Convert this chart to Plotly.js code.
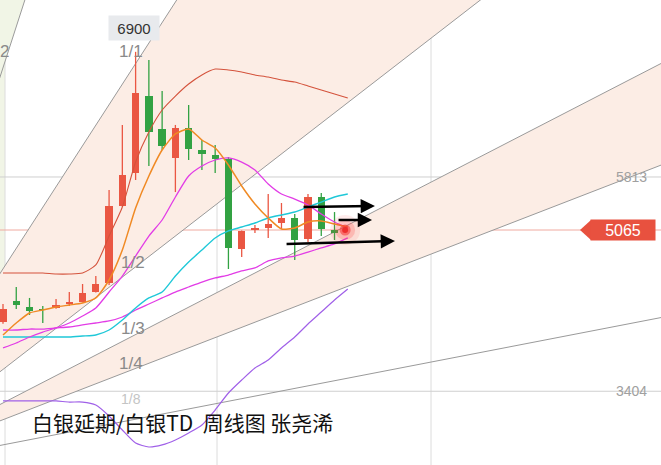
<!DOCTYPE html>
<html>
<head>
<meta charset="utf-8">
<script src="https://cdn.plot.ly/plotly-3.0.1.min.js"></script>
<style>
html,body{margin:0;padding:0;background:#fff;}
#chart{width:661px;height:465px;}
</style>
</head>
<body>
<div id="chart"></div>
<script>
// ---- data (weekly candles, index 0..25) ----
const weeks = [0,1,2,3,4,5,6,7,8,9,10,11,12,13,14,15,16,17,18,19,20,21,22,23,24,25];
const openP  = [4117,4334,4272,4251,4262,4303,4323,4426,4519,5312,5652,6445,6105,5807,6116,5889,5838,5796,4869,5065,5086,5137,5189,4972,5405,5065];
const closeP = [4251,4292,4231,4241,4292,4323,4416,4509,5312,5632,6476,6074,5930,6116,5899,5848,5796,4880,5055,5086,5127,5189,4962,5405,5075,5034];
const highP  = [4303,4478,4365,4282,4354,4426,4509,4591,5477,6147,6900,6816,6497,6147,6353,5992,5941,5817,5060,5117,5436,5343,5230,5436,5446,5250];
const lowP   = [4100,4251,4190,4107,4255,4282,4318,4420,4499,5305,5580,5724,5889,5456,5786,5683,5652,4663,4787,5034,4983,5075,4756,4941,5003,4962];

// moving-average style lines (index 0..26)
const maX = [0,1,2,3,4,5,6,7,8,9,10,11,12,13,14,15,16,17,18,19,20,21,22,23,24,25,26];
const maOrange  = [3984,4107,4210,4241,4272,4292,4313,4365,4550,4859,5292,5621,5889,6054,6105,5992,5910,5735,5518,5333,5189,5075,5086,5147,5158,5127,5096];
const maCyan    = [3963,3963,3963,3963,3963,3963,3973,3984,4035,4138,4262,4365,4426,4591,4735,4859,4983,5055,5096,5137,5189,5220,5250,5302,5353,5405,5436];
const maMagenta = [3850,3901,3963,4014,4056,4107,4179,4262,4426,4591,4797,5003,5168,5405,5621,5724,5786,5807,5765,5683,5539,5436,5384,5323,5230,5147,5086];
const maMagenta2= [4035,4035,4045,4045,4056,4066,4087,4107,4128,4169,4241,4303,4365,4426,4478,4529,4571,4601,4643,4674,4746,4777,4797,4838,4880,4921,4983];
const maDarkRed = [4622,4622,4622,4622,4612,4612,4622,4705,5003,5302,5765,6074,6301,6445,6569,6662,6723,6713,6692,6662,6641,6610,6589,6548,6507,6466,6425];
const maViolet  = [3304,3304,3304,3304,3304,3293,3293,3262,3149,3005,2871,2830,2851,2902,2974,3057,3211,3386,3520,3644,3726,3850,3963,4097,4220,4344,4457];

// Gann fan
const fanOriginX = -9.8, fanOriginY = 2593, fanUnit = 211.4;
const fanRatios = [2, 1, 1/2, 1/3, 1/4, 1/8];
const fanLabels = ['2','1/1','1/2','1/3','1/4','1/8'];

// price levels
const levelValues = [5611, 5065, 3404];
const levelLabels = ['5813', '5065', '3404'];
const highLabel = '6900';

// arrows (tail -> head)
const arrowTailX = [22.55, 25.19, 21.27];
const arrowTailY = [5302, 5168, 4921];
const arrowHeadX = [28.05, 27.83, 29.56];
const arrowHeadY = [5312, 5168, 4952];

const lastX = 25.8, lastPrice = 5065;
const titleText = '白银延期/白银TD  周线图 张尧浠';

// ---- build ----
const W = 661, H = 465;
const PX = x => x / W, PY = y => 1 - y / H;
const RED = '#ea5743', GREEN = '#32a243';
const xRange = [-0.226, 49.62], yRange = [2644.5, 7434];

const fanY = (r, x) => fanOriginY + r * fanUnit * (x - fanOriginX);
const farX = 60;

const shapes = [];
function band(r1, r2, color) {
  shapes.push({type:'path', layer:'below', xref:'x', yref:'y', line:{width:0}, fillcolor:color,
    path:`M ${fanOriginX},${fanOriginY} L ${farX},${fanY(r1,farX)} L ${farX},${fanY(r2,farX)} Z`});
}
shapes.push({type:'path', layer:'below', xref:'x', yref:'y', line:{width:0}, fillcolor:'#f1f5e6',
  path:`M ${fanOriginX},${fanOriginY} L 12,${fanY(fanRatios[0],12)} L ${fanOriginX},${fanY(fanRatios[0],12)} Z`});
shapes.push({type:'rect', layer:'below', xref:'paper', yref:'paper', x0:0, x1:PX(5), y0:PY(300), y1:1, line:{width:0}, fillcolor:'#f1f5e6'});
band(fanRatios[1], fanRatios[2], '#fcede5');
band(fanRatios[3], fanRatios[4], '#fcede5');

[5, 217, 431].forEach(v => shapes.push({type:'line', layer:'below', xref:'paper', yref:'paper', x0:PX(v), x1:PX(v), y0:0, y1:1, line:{color:'#dcdcdc', width:1}}));
shapes.push({type:'line', layer:'below', xref:'paper', yref:'y', x0:0, x1:1, y0:levelValues[0], y1:levelValues[0], line:{color:'#cfcfcf', width:1}});
shapes.push({type:'line', layer:'below', xref:'paper', yref:'y', x0:0, x1:1, y0:levelValues[2], y1:levelValues[2], line:{color:'#cfcfcf', width:1}});
shapes.push({type:'line', layer:'below', xref:'paper', yref:'y', x0:0, x1:1, y0:levelValues[1], y1:levelValues[1], line:{color:'#f0aaa0', width:1}});
fanRatios.forEach(r => shapes.push({type:'line', layer:'below', xref:'x', yref:'y',
  x0:fanOriginX, y0:fanOriginY, x1:farX, y1:fanY(r,farX), line:{color:'#9a9a9a', width:1}}));
shapes.push({type:'path', xref:'paper', yref:'paper', line:{width:0}, fillcolor:'#e8513f',
  path:`M ${PX(580)},${PY(230)} L ${PX(591)},${PY(220)} L ${PX(591)},${PY(240)} Z`});

const traces = [];
traces.push({type:'bar', x:weeks,
  base: weeks.map(i => Math.min(openP[i], closeP[i])),
  y: weeks.map(i => Math.max(Math.abs(closeP[i]-openP[i]), 14)),
  width:0.55, marker:{color: weeks.map(i => closeP[i] >= openP[i] ? RED : GREEN), line:{width:0}},
  hoverinfo:'skip'});
function wicks(up) {
  const xs=[], ys=[];
  weeks.forEach(i => { if ((closeP[i] >= openP[i]) === up) { xs.push(i,i,null); ys.push(lowP[i],highP[i],null); } });
  return {type:'scatter', mode:'lines', x:xs, y:ys, line:{color: up?RED:GREEN, width:1.3}, hoverinfo:'skip'};
}
traces.push(wicks(true), wicks(false));
const line = (y, c, w) => ({type:'scatter', mode:'lines', x:maX.slice(0, y.length), y:y, line:{color:c, width:w, shape:'spline', smoothing:0.6}, hoverinfo:'skip'});
traces.push(line(maDarkRed, '#d4533c', 1.1));
traces.push(line(maViolet, '#a060e8', 1.2));
traces.push(line(maMagenta2, '#e23ce6', 1.3));
traces.push(line(maCyan, '#1fc8d8', 1.4));
traces.push(line(maMagenta, '#e23ce6', 1.3));
traces.push(line(maOrange, '#f08a24', 1.5));
[[30,'rgba(255,70,70,0.10)'],[20,'rgba(255,60,60,0.22)'],[11,'rgba(245,50,50,0.55)'],[6,'rgba(235,40,40,0.9)']].forEach(([s,c]) =>
  traces.push({type:'scatter', mode:'markers', x:[lastX], y:[lastPrice], marker:{size:s, color:c, line:{width:0}}, hoverinfo:'skip'}));

const annotations = [];
const C = {xanchor:'center', yanchor:'middle', showarrow:false};
const labelPos = [[4,52],[131,52],[133,262],[133,328],[131,363],[131,399]];
fanLabels.forEach((t, k) => annotations.push(Object.assign({xref:'paper', yref:'paper', x:PX(labelPos[k][0]), y:PY(labelPos[k][1]),
  text:t, font:{family:'Liberation Sans, Arial', size: k===5 ? 14 : 17, color: k===5 ? '#c4c4c4' : '#8a8a8a'}}, C)));
annotations.push(Object.assign({xref:'paper', yref:'paper', x:PX(134), y:PY(28.5), text:highLabel,
  font:{family:'Liberation Sans, Arial', size:15, color:'#333'}, bgcolor:'#e8eaed', width:50, height:24, borderpad:0}, C));
annotations.push(Object.assign({xref:'paper', yref:'y', x:PX(631), y:levelValues[0], text:levelLabels[0],
  font:{family:'Liberation Sans, Arial', size:14, color:'#a0a0a0'}}, C));
annotations.push(Object.assign({xref:'paper', yref:'y', x:PX(631), y:levelValues[2], text:levelLabels[2],
  font:{family:'Liberation Sans, Arial', size:14, color:'#a0a0a0'}}, C));
annotations.push(Object.assign({xref:'paper', yref:'y', x:PX(623), y:levelValues[1], text:levelLabels[1],
  font:{family:'Liberation Sans, Arial', size:16, color:'#ffffff'}, bgcolor:'#e8513f', width:64, height:20, borderpad:0}, C));
arrowTailX.forEach((_, k) => annotations.push({xref:'x', yref:'y', axref:'x', ayref:'y',
  x:arrowHeadX[k], y:arrowHeadY[k], ax:arrowTailX[k], ay:arrowTailY[k], text:'', showarrow:true,
  arrowhead:2, arrowsize:1.1, arrowwidth:2.6, arrowcolor:'#000'}));
annotations.push({xref:'paper', yref:'paper', x:PX(30), y:PY(422), xanchor:'left', yanchor:'middle', text:titleText, showarrow:false,
  font:{family:'Noto Sans CJK SC, sans-serif', size:21, color:'#111'}});

const layout = {
  width:W, height:H, margin:{l:0,r:0,t:0,b:0}, paper_bgcolor:'#fff', plot_bgcolor:'#fff',
  showlegend:false, bargap:0,
  xaxis:{range:xRange, visible:false, fixedrange:true},
  yaxis:{range:yRange, visible:false, fixedrange:true},
  shapes:shapes, annotations:annotations
};
Plotly.newPlot('chart', traces, layout, {displayModeBar:false, staticPlot:true});
</script>
</body>
</html>
